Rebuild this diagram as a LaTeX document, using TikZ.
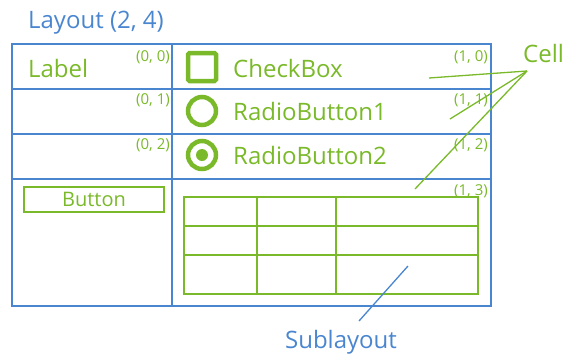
\documentclass[tikz,border=0pt]{standalone}
\usepackage{fontspec}
\setmainfont{Open Sans}
\usetikzlibrary{positioning}
\definecolor{lyblue}{HTML}{4A86D0}
\definecolor{lygreen}{HTML}{7AB929}
\tikzset{
  ly grid/.style={draw=lyblue, line width=2.6pt, line cap=rect},
  ly sub/.style={draw=lygreen, line width=2.6pt, line cap=rect},
  ly title/.style={font=\fontsize{24}{28}\selectfont, text=lyblue, inner sep=0pt},
  ly widget/.style={font=\fontsize{24}{28}\selectfont, text=lygreen, inner sep=0pt},
  ly index/.style={font=\fontsize{15}{18}\selectfont, text=lygreen, inner sep=0pt, anchor=base east},
  ly icon/.style={draw=lygreen, line width=4.5pt, minimum size=28pt, inner sep=0pt},
  ly button/.style={draw=lygreen, line width=2.6pt, minimum width=140pt, minimum height=25pt,
    inner sep=0pt, font=\fontsize{20}{24}\selectfont, text=lygreen},
  ly pointer/.style={line width=1.3pt}
}
\begin{document}
\begin{tikzpicture}[x=1pt, y=-1pt]
  \useasboundingbox (0,0) rectangle (566,354);
  % outer layout grid
  \node[ly title, anchor=base west] (layout) at (28,28) {Layout (2, 4)};
  \draw[ly grid] (12,44) rectangle (491,306);
  \draw[ly grid] (172,44) -- (172,306);
  \foreach \y in {89,134,179}
    \draw[ly grid] (12,\y) -- (491,\y);
  % cell indices
  \node[ly index] (i00) at (170,61) {(0, 0)};
  \node[ly index] (i01) at (170,104) {(0, 1)};
  \node[ly index] (i02) at (170,149) {(0, 2)};
  \node[ly index] (i10) at (488,61) {(1, 0)};
  \node[ly index] (i11) at (488,104) {(1, 1)};
  \node[ly index] (i12) at (488,149) {(1, 2)};
  \node[ly index] (i13) at (488,195) {(1, 3)};
  % widgets
  \node[ly widget, anchor=base west] (label) at (28,77) {Label};
  \node[ly icon, rounded corners=1.5pt] (chk) at (202,67) {};
  \node[ly widget, anchor=base west] (chktext) at (233,77) {CheckBox};
  \node[ly icon, circle] (rb1) at (202,111) {};
  \node[ly widget, anchor=base west] (rb1text) at (233,120) {RadioButton1};
  \node[ly icon, circle] (rb2) at (202,155) {};
  \fill[lygreen] (rb2.center) circle (6pt);
  \node[ly widget, anchor=base west] (rb2text) at (233,164) {RadioButton2};
  \node[ly button] (btn) at (94,199.5) {Button};
  % sublayout
  \draw[ly sub] (184,197) rectangle (478,294);
  \foreach \y in {226,255}
    \draw[ly sub] (184,\y) -- (478,\y);
  \foreach \x in {257,336}
    \draw[ly sub] (\x,197) -- (\x,294);
  % callouts
  \node[ly widget, anchor=base west] (cell) at (523,62) {Cell};
  \coordinate (cellhub) at (527,71);
  \coordinate (cell10) at (429,78);
  \coordinate (cell11) at (450,119);
  \coordinate (cell13) at (415,189);
  \foreach \c in {cell10,cell11,cell13}
    \draw[ly pointer, lygreen] (cellhub) -- (\c);
  \node[ly title, anchor=base] (sub) at (341,348) {Sublayout};
  \coordinate (subtip) at (408,266);
  \draw[ly pointer, lyblue] (359,321) -- (subtip);
\end{tikzpicture}
\end{document}
